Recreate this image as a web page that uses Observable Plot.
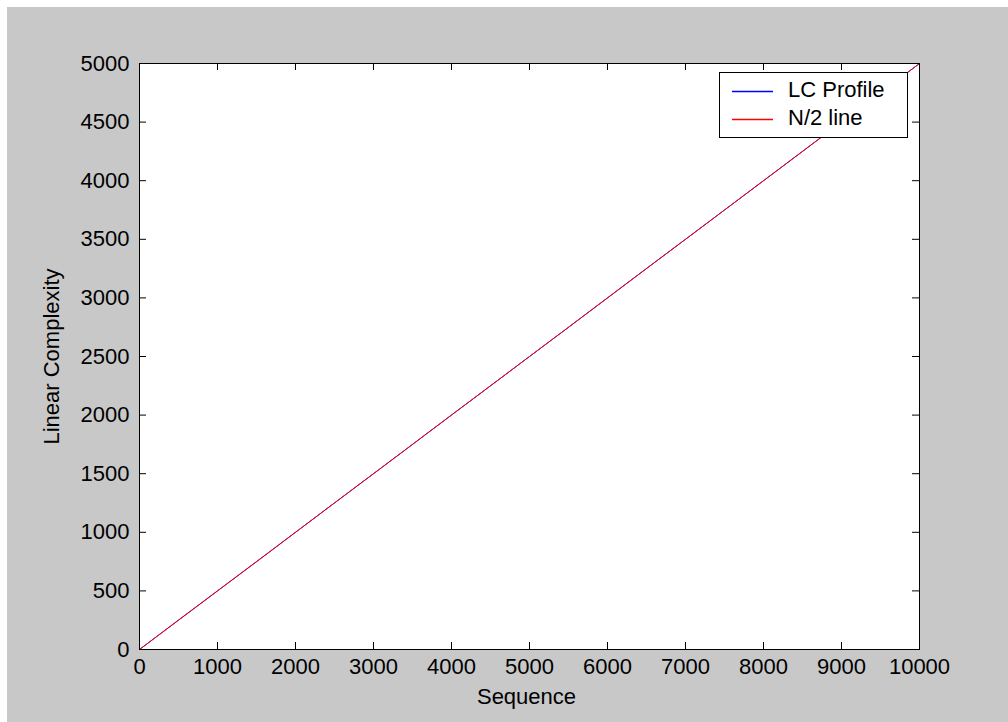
<!DOCTYPE html>
<html>
<head>
<meta charset="utf-8">
<script src="https://cdn.jsdelivr.net/npm/d3@7"></script>
<script src="https://cdn.jsdelivr.net/npm/@observablehq/plot@0.6"></script>
<style>
  html, body { margin: 0; padding: 0; background: #ffffff; width: 1008px; height: 722px; overflow: hidden; }
  #wrap { position: absolute; left: 7px; top: 7px; width: 1001px; height: 715px; background: #c8c8c8; }
  #legend { position: absolute; left: 712px; top: 65px; }
</style>
</head>
<body>
<div id="wrap"><div id="chart"></div><div id="legend"></div></div>
<script>
// ---- data ----
const xTicks = [0, 1000, 2000, 3000, 4000, 5000, 6000, 7000, 8000, 9000, 10000];
const yTicks = [0, 500, 1000, 1500, 2000, 2500, 3000, 3500, 4000, 4500, 5000];
const lcN = [0, 500, 1000, 1500, 2000, 2500, 3000, 3500, 4000, 4500, 5000, 5500, 6000, 6500, 7000, 7500, 8000, 8500, 9000, 9500, 10000];
const lcValues = [0, 251, 500, 749, 1000, 1251, 1500, 1750, 2001, 2250, 2500, 2749, 3000, 3251, 3500, 3750, 4000, 4250, 4501, 4750, 5000];
const halfN = [0, 10000];
const halfValues = [0, 5000];
const seriesNames = ["LC Profile", "N/2 line"];
const seriesColors = ["#0000ff", "#ff0000"];

const lcData = lcN.map((n, i) => ({n, v: lcValues[i]}));
const halfData = halfN.map((n, i) => ({n, v: halfValues[i]}));

const W = 1001, H = 715, ML = 132, MR = 89, MT = 56, MB = 73;
const PW = W - ML - MR, PH = H - MT - MB;
const TICK = 7;
const fmt = d3.format("d");

const chart = Plot.plot({
  width: W, height: H,
  marginLeft: ML, marginRight: MR, marginTop: MT, marginBottom: MB,
  style: {background: "#c8c8c8", fontSize: "22px", fontFamily: "'Liberation Sans', Arial, sans-serif", color: "black"},
  x: {domain: [0, 10000], axis: null},
  y: {domain: [0, 5000], axis: null},
  marks: [
    Plot.frame({fill: "white", stroke: null}),
    Plot.line(lcData, {x: "n", y: "v", stroke: seriesColors[0], strokeWidth: 1}),
    Plot.line(halfData, {x: "n", y: "v", stroke: seriesColors[1], strokeWidth: 1}),
    Plot.tickX(xTicks, {x: d => d, insetTop: PH - TICK, stroke: "black"}),
    Plot.tickX(xTicks, {x: d => d, insetBottom: PH - TICK, stroke: "black"}),
    Plot.tickY(yTicks, {y: d => d, insetRight: PW - TICK, stroke: "black"}),
    Plot.tickY(yTicks, {y: d => d, insetLeft: PW - TICK, stroke: "black"}),
    Plot.frame({stroke: "black", strokeWidth: 1}),
    Plot.axisX(xTicks, {anchor: "bottom", tickSize: 0, tickPadding: 9, tickFormat: fmt, label: null}),
    Plot.axisY(yTicks, {anchor: "left", tickSize: 0, tickPadding: 10, tickFormat: fmt, label: null}),
    Plot.text(["Sequence"], {frameAnchor: "bottom", dy: 47, dx: -3, lineAnchor: "middle", textAnchor: "middle", fill: "black"}),
    Plot.text(["Linear Complexity"], {frameAnchor: "left", rotate: -90, dx: -88, lineAnchor: "middle", textAnchor: "middle", fill: "black"})
  ]
});
document.getElementById("chart").appendChild(chart);

// ---- legend ----
const lg = d3.select("#legend").append("svg")
  .attr("width", 190).attr("height", 67)
  .style("font-family", "'Liberation Sans', Arial, sans-serif")
  .style("font-size", "22px");
lg.append("rect").attr("x", 0.5).attr("y", 0.5).attr("width", 188).attr("height", 65)
  .attr("fill", "white").attr("stroke", "black");
seriesNames.forEach((name, i) => {
  const cy = 19 + i * 28;
  lg.append("line").attr("x1", 13).attr("x2", 54).attr("y1", cy + 0.5).attr("y2", cy + 0.5)
    .attr("stroke", seriesColors[i]).attr("stroke-width", 1.5);
  lg.append("text").attr("x", 69).attr("y", cy + 6).attr("fill", "black").text(name);
});
</script>
</body>
</html>
